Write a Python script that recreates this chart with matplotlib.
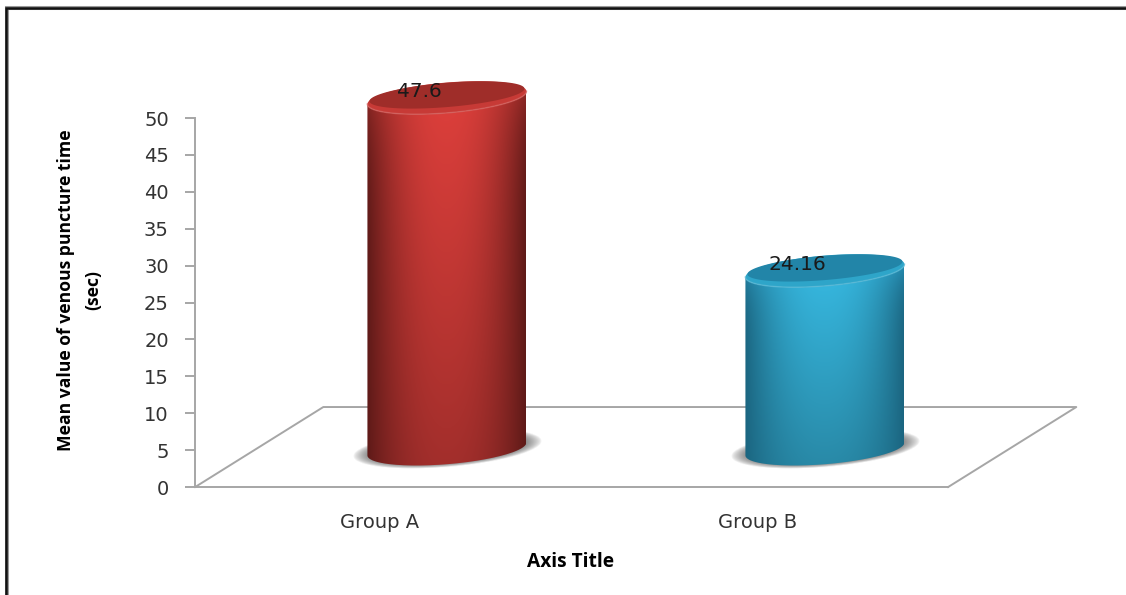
import numpy as np
import matplotlib
matplotlib.use("Agg")
import matplotlib.pyplot as plt
from matplotlib.patches import PathPatch, Rectangle
from matplotlib.path import Path
from matplotlib.colors import to_rgb

groups = ["Group A", "Group B"]
puncture_time = [47.6, 24.16]
value_labels = ["47.6", "24.16"]
y_ticks = [0, 5, 10, 15, 20, 25, 30, 35, 40, 45, 50]

# colours per cylinder: edge, middle, top face, bevel
red_style = ("#5e1a18", "#e0403c", "#9f2d29", "#c73a36")
blue_style = ("#1b6580", "#38bde6", "#2285a8", "#2ea5c9")

# placement of the 3D look, in axis units
depth_x = 0.177
depth_y = 5.15
half_width = 0.2103
tilt = 0.867
minor = 2.06
floor_left = -0.489
floor_right = 1.503
back_dx = 0.339
back_dy = 10.84


def ellipse(cx, cy, t, scale=1.0, squash=1.0):
    return (cx + scale * half_width * np.cos(t),
            cy + scale * tilt * np.cos(t) + squash * minor * np.sin(t))


def mix(a, b, f):
    return np.asarray(a) + (np.asarray(b) - np.asarray(a)) * f


def draw_shadow(ax, cx, cy):
    # soft grey blob under the cylinder
    nx, ny = 260, 120
    xs = np.linspace(cx - 0.3, cx + 0.3, nx)
    ys = np.linspace(cy - 6, cy + 6, ny)
    gx, gy = np.meshgrid(xs, ys)
    u = (gx - cx) / 0.25
    v = (gy - cy - tilt * (gx - cx) / half_width) / 2.5
    r = np.sqrt(u**2 + v**2)
    alpha = np.clip((1.0 - r) / 0.2, 0, 1) ** 0.7 * 0.72
    img = np.zeros((ny, nx, 4))
    img[..., :3] = 0.3
    img[..., 3] = alpha
    ax.imshow(img, extent=(xs[0], xs[-1], ys[0], ys[-1]), origin="lower",
              aspect="auto", zorder=3, interpolation="bilinear")


def draw_cylinder(ax, cx, base, top, style):
    edge, middle, face, bevel = [np.array(to_rgb(c)) for c in style]

    lower = np.linspace(np.pi, 2 * np.pi, 80)
    bx, by = ellipse(cx, base, lower)
    tx, ty = ellipse(cx, top, lower[::-1])
    body = Path(np.column_stack([np.r_[bx, tx], np.r_[by, ty]]))

    # horizontal shading, a bit darker toward the floor, edges lift near the top
    nx, ny = 200, 300
    u = np.linspace(-1, 1, nx)
    shade = np.clip(1 - np.abs(u) ** 2.2, 0, 1)[None, :, None]
    fade = np.linspace(0.72, 1.0, ny)[:, None, None]
    lift = 1 + 0.7 * np.linspace(0, 1, ny)[:, None, None] ** 8
    img = np.clip(mix(edge * lift, middle * fade, shade), 0, 1)
    y0, y1 = base - minor - tilt, top + minor + tilt
    im = ax.imshow(img, extent=(cx - half_width, cx + half_width, y0, y1),
                   origin="lower", aspect="auto", zorder=4)
    im.set_clip_path(PathPatch(body, transform=ax.transData))

    # top face sits inside a lighter bevel
    t = np.linspace(0, 2 * np.pi, 160)
    ax.fill(*ellipse(cx, top, t), color=bevel, lw=0, zorder=5)
    ax.fill(*ellipse(cx, top + 0.38, t, scale=0.975, squash=0.8), color=face, lw=0, zorder=5)
    ax.plot(*ellipse(cx, top, lower), color=mix(bevel, [1, 1, 1], 0.2), lw=1.1, alpha=0.7, zorder=6)


fig = plt.figure(figsize=(11.26, 5.95), dpi=100)
ax = fig.add_axes([0, 0, 1, 1])
ax.set_xlim(-1.0053, 1.9735)
ax.set_ylim(-14.63, 65.99)

grey = "#a6a6a6"
for name in ["top", "right"]:
    ax.spines[name].set_visible(False)
ax.spines["left"].set_position(("data", floor_left))
ax.spines["left"].set_bounds(0, 50)
ax.spines["bottom"].set_position(("data", 0))
ax.spines["bottom"].set_bounds(floor_left, floor_right)
for name in ["left", "bottom"]:
    ax.spines[name].set_color(grey)
    ax.spines[name].set_linewidth(1.4)

ax.set_yticks(y_ticks)
ax.set_xticks(range(len(groups)), groups)
ax.tick_params(axis="y", direction="out", length=7, width=1.4, color=grey,
               labelsize=14, labelcolor="#333333", pad=12)
ax.tick_params(axis="x", length=0, labelsize=14, labelcolor="#333333", pad=19)
ax.patch.set_visible(False)

# floor of the chart
ax.plot([floor_left, floor_left + back_dx, floor_right + back_dx, floor_right],
        [0, back_dy, back_dy, 0], color=grey, lw=1.4, zorder=2)

for i, (value, label, style) in enumerate(zip(puncture_time, value_labels, [red_style, blue_style])):
    cx = i + depth_x
    draw_shadow(ax, cx, depth_y)
    draw_cylinder(ax, cx, depth_y, depth_y + value, style)
    ax.text(cx - 0.072, depth_y + value + 0.9, label, ha="center", va="center",
            fontsize=14.5, color="#1a1a1a", zorder=7)

ax.set_xlim(-1.0053, 1.9735)
ax.set_ylim(-14.63, 65.99)

bold = dict(family="Open Sans", fontweight="bold", color="black")
ax.text(-0.794, 26.7, "Mean value of venous puncture time\n(sec)", rotation=90,
        ha="center", va="center", fontsize=12.6, linespacing=1.65, **bold)
ax.text(0.503, -10.2, "Axis Title", ha="center", va="center", fontsize=13.8, **bold)

# outer frame, runs off the right and bottom of the image
for inset, top_inset, lw, colour in [(6.5, 8, 2.9, "#9a9a9a"), (5.5, 8, 1.8, "#111111")]:
    fig.add_artist(Rectangle((inset / 1126, -0.05), 1.2, 0.05 + (595 - top_inset) / 595,
                             fill=False, ec=colour, lw=lw, transform=fig.transFigure))

fig.savefig("out.png", dpi=100)
